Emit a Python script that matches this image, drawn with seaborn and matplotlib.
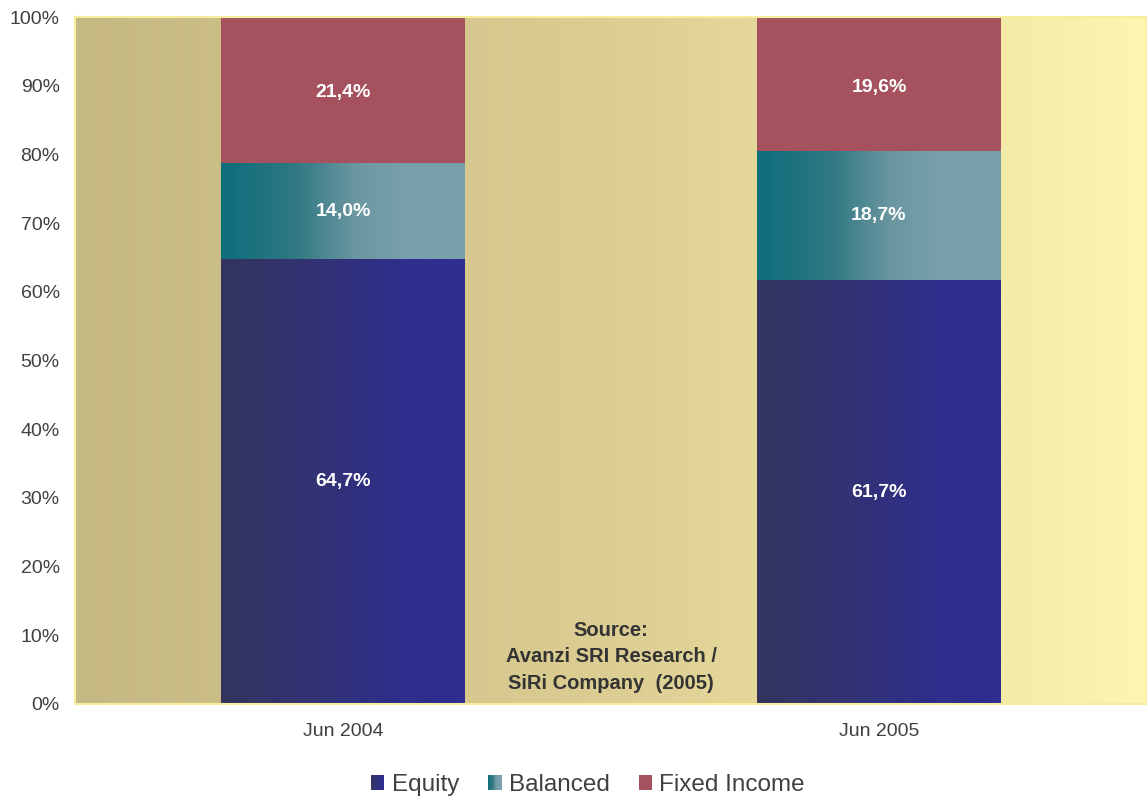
import numpy as np
import pandas as pd
import matplotlib
matplotlib.use("Agg")
import matplotlib.pyplot as plt
import seaborn as sns
from matplotlib.colors import LinearSegmentedColormap
from matplotlib.legend_handler import HandlerBase
from matplotlib.patches import Rectangle

categories = ["Jun 2004", "Jun 2005"]
equity = [64.7, 61.7]
balanced = [14.0, 18.7]
fixed_income = [21.4, 19.6]
series_names = ["Equity", "Balanced", "Fixed Income"]
yticks = [0, 10, 20, 30, 40, 50, 60, 70, 80, 90, 100]
source_text = "Source:\nAvanzi SRI Research /\nSiRi Company  (2005)"

sns.set_theme(style="white")
plt.rcParams["font.family"] = ["Liberation Sans", "DejaVu Sans"]

fig = plt.figure(figsize=(11.47, 7.96), dpi=100)
ax = fig.add_axes([75 / 1147, 92 / 796, 1 - 75 / 1147, (704 - 17) / 796])

eq = np.array(equity)
ba = np.array(balanced)
fi = np.array(fixed_income)
df = pd.DataFrame({
    "cat": categories,
    "top": np.minimum(eq + ba + fi, 100),
    "mid": eq + ba,
    "low": eq,
})

RED = "#a5525e"
bar_w = 0.454
sns.barplot(data=df, x="cat", y="top", color=RED, width=bar_w, saturation=1,
            ax=ax, edgecolor="none", zorder=2)
n_before = len(ax.patches)
sns.barplot(data=df, x="cat", y="mid", color="#4a8794", width=bar_w, saturation=1,
            ax=ax, edgecolor="none", zorder=3)
mid_patches = ax.patches[n_before:]
n_before = len(ax.patches)
sns.barplot(data=df, x="cat", y="low", color="#30306f", width=bar_w, saturation=1,
            ax=ax, edgecolor="none", zorder=4)
low_patches = ax.patches[n_before:]

cm_bal = LinearSegmentedColormap.from_list(
    "bal", [(0, "#0e6d7b"), (0.3, "#2f7882"), (0.55, "#6b97a1"), (0.75, "#78a0ac"), (1, "#79a1ad")])
cm_eq = LinearSegmentedColormap.from_list(
    "eq", [(0, "#34345e"), (0.4, "#323276"), (0.75, "#2e2e8c"), (1, "#2e2e90")])
grad = np.linspace(0, 1, 256).reshape(1, -1)

for patches, cmap, z in [(mid_patches, cm_bal, 3.5), (low_patches, cm_eq, 4.5)]:
    for p in patches:
        x0, y0 = p.get_x(), p.get_y()
        w, h = p.get_width(), p.get_height()
        ax.imshow(grad, cmap=cmap, extent=[x0, x0 + w, y0, y0 + h],
                  aspect="auto", zorder=z, interpolation="bicubic")

# background gradient
cm_bg = LinearSegmentedColormap.from_list("bg", ["#c6b883", "#dccd92", "#fdf5b1"])
ax.imshow(grad, cmap=cm_bg, extent=[0, 1, 0, 1], transform=ax.transAxes,
          aspect="auto", zorder=0, interpolation="bicubic")

ax.set_xlim(-0.5, 1.5)
ax.set_ylim(0, 100)


def fmt(v):
    return f"{v:.1f}".replace(".", ",") + "%"


# value labels
for i in range(len(categories)):
    lo = eq[i]
    mid = eq[i] + ba[i]
    top = min(mid + fi[i], 100)
    ax.text(i, lo / 2, fmt(equity[i]), ha="center", va="center", color="white",
            fontsize=14, fontweight="bold", zorder=6)
    ax.text(i, (lo + mid) / 2, fmt(balanced[i]), ha="center", va="center", color="white",
            fontsize=14, fontweight="bold", zorder=6)
    ax.text(i, (mid + top) / 2 - 0.4, fmt(fixed_income[i]), ha="center", va="center", color="white",
            fontsize=14, fontweight="bold", zorder=6)

ax.text(0.5, 6.9, source_text, ha="center", va="center", color="#333333",
        fontsize=14.5, fontweight="bold", linespacing=1.5, zorder=6)

ax.set_yticks(yticks)
ax.set_yticklabels([f"{v}%" for v in yticks])
ax.set_xlabel("")
ax.set_ylabel("")
ax.tick_params(axis="both", length=0, labelsize=14, colors="#404040")
ax.tick_params(axis="y", pad=11)
ax.tick_params(axis="x", pad=14)
for s in ax.spines.values():
    s.set_color("#f6ee9e")
    s.set_linewidth(1.5)
    s.set_zorder(7)


class GradHandler(HandlerBase):
    def __init__(self, cmap):
        super().__init__()
        self.cmap = cmap

    def create_artists(self, legend, orig_handle, xdescent, ydescent, width, height, fontsize, trans):
        n = 12
        arts = []
        for k in range(n):
            r = Rectangle((-xdescent + width * k / n, -ydescent), width / n + 0.05, height,
                          facecolor=self.cmap((k + 0.5) / n), edgecolor="none", transform=trans)
            arts.append(r)
        return arts


h_eq = Rectangle((0, 0), 1, 1)
h_bal = Rectangle((0, 0), 1, 1)
h_fi = Rectangle((0, 0), 1, 1, facecolor=RED, edgecolor="none")
leg = fig.legend([h_eq, h_bal, h_fi], series_names, loc="center", bbox_to_anchor=(588 / 1147, 1 - 785 / 796),
                 ncol=3, frameon=False, fontsize=17.5, handlelength=0.55, handleheight=0.55,
                 handletextpad=0.3, columnspacing=1.2,
                 handler_map={h_eq: GradHandler(cm_eq), h_bal: GradHandler(cm_bal)})
for t in leg.get_texts():
    t.set_color("#404040")

fig.savefig("out.png", dpi=100)
